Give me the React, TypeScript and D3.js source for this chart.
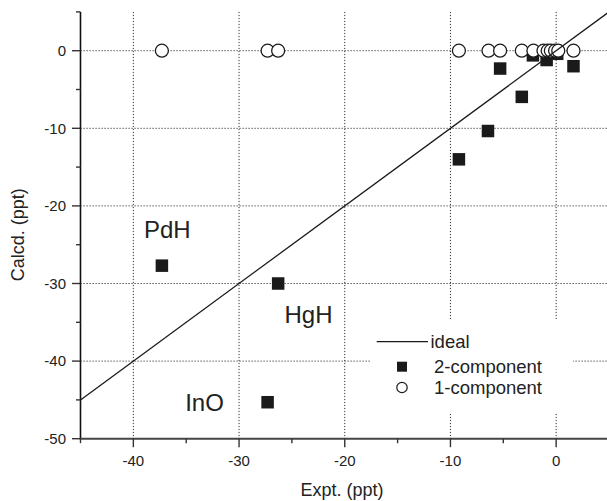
import React from "react";
import * as d3 from "d3";

// Data
const oneComponentX = [-37.3, -27.3, -26.3, -9.2, -6.4, -5.3, -3.25, -2.15, -1.2, -0.8, -0.5, -0.1, 0.2, 1.64];
const oneComponentY = [0, 0, 0, 0, 0, 0, 0, 0, 0, 0, 0, 0, 0, 0];

const twoComponentX = [-37.3, -27.3, -26.3, -9.2, -6.45, -5.3, -3.25, -2.2, -0.9, 0.1, 1.64];
const twoComponentY = [-27.7, -45.3, -30.0, -14.0, -10.35, -2.3, -5.95, -0.6, -1.2, -0.4, -2.0];

const idealX = [-45, 5];

const xMajorTicks = [-40, -30, -20, -10, 0];
const xMinorTicks = [-45, -35, -25, -15, -5, 5];
const yMajorTicks = [0, -10, -20, -30, -40, -50];
const yMinorTicks = [5, -5, -15, -25, -35, -45];

const annotationText = ["PdH", "HgH", "InO"];
const annotationX = [-39.0, -25.7, -35.1];
const annotationY = [-24.1, -35.05, -46.4];

const legendLabels = ["ideal", "2-component", "1-component"];

const FONT = "'Liberation Sans', Arial, Helvetica, sans-serif";
const TEXT = "#222";

export default function App() {
  const W = 607;
  const H = 501;
  const x = d3.scaleLinear().domain([-45, 5]).range([80.5, 80.5 + 50 * 10.57]);
  const y = d3.scaleLinear().domain([-50, 5]).range([438.7, 438.7 - 55 * 7.76]);
  const x0 = x(-45);
  const xEnd = W;
  const yTop = y(5);
  const yBot = y(-50);

  const line = d3
    .line<number>()
    .x((d) => x(d))
    .y((d) => y(d));

  const sq = 12.5;
  const r = 6.5;

  // legend box
  const lg = { x: 370, y: 319, w: 203, h: 93 };

  return (
    <svg
      width={W}
      height={H}
      style={{ position: "absolute", left: 0, top: 0, background: "#fff" }}
      fontFamily={FONT}
    >
      <rect x={0} y={0} width={W} height={H} fill="#fff" />
      {/* grid */}
      <g stroke="#333" strokeWidth={1} strokeDasharray="1.2,1.8">
        {xMajorTicks.map((t) => (
          <line key={"gx" + t} x1={x(t)} x2={x(t)} y1={yTop} y2={yBot} />
        ))}
        {yMajorTicks
          .filter((t) => t !== -50)
          .map((t) => (
            <line key={"gy" + t} x1={x0} x2={xEnd} y1={y(t)} y2={y(t)} />
          ))}
      </g>

      {/* 2-component squares */}
      <g fill="#1a1a1a">
        {twoComponentX.map((v, i) => (
          <rect
            key={"s" + i}
            x={x(v) - sq / 2}
            y={y(twoComponentY[i]) - sq / 2}
            width={sq}
            height={sq}
          />
        ))}
      </g>

      {/* 1-component circles */}
      <g fill="#fff" stroke="#1a1a1a" strokeWidth={1.3}>
        {oneComponentX.map((v, i) => (
          <circle key={"c" + i} cx={x(v)} cy={y(oneComponentY[i])} r={r} />
        ))}
      </g>

      {/* ideal line */}
      <path d={line(idealX) || ""} fill="none" stroke="#1a1a1a" strokeWidth={1.3} />

      {/* axes */}
      <line x1={x0} x2={x0} y1={yTop} y2={yBot} stroke="#111" strokeWidth={1.6} />
      <line x1={x0 - 0.8} x2={xEnd} y1={yBot} y2={yBot} stroke="#444" strokeWidth={2} />
      <g stroke="#333" strokeWidth={1.4}>
        {xMajorTicks.map((t) => (
          <line key={"xt" + t} x1={x(t)} x2={x(t)} y1={yBot} y2={yBot + 8.5} />
        ))}
        {xMinorTicks.map((t) => (
          <line key={"xm" + t} x1={x(t)} x2={x(t)} y1={yBot} y2={yBot + 4.5} />
        ))}
        {yMajorTicks.map((t) => (
          <line key={"yt" + t} x1={x0 - 8.5} x2={x0} y1={y(t)} y2={y(t)} />
        ))}
        {yMinorTicks.map((t) => (
          <line key={"ym" + t} x1={x0 - 4.5} x2={x0} y1={y(t)} y2={y(t)} />
        ))}
      </g>
      <g fill={TEXT} fontSize={15}>
        {xMajorTicks.map((t) => (
          <text key={"xl" + t} x={x(t)} y={466} textAnchor="middle">
            {t}
          </text>
        ))}
        {yMajorTicks.map((t) => (
          <text key={"yl" + t} x={66} y={y(t) + 5.2} textAnchor="end">
            {t}
          </text>
        ))}
      </g>

      {/* axis titles */}
      <text x={342} y={496} textAnchor="middle" fontSize={18} fill={TEXT}>
        Expt. (ppt)
      </text>
      <text
        transform={`translate(24,${234.7}) rotate(-90)`}
        textAnchor="middle"
        fontSize={18}
        fill={TEXT}
      >
        Calcd. (ppt)
      </text>

      {/* annotations */}
      <g fontSize={24} fill={TEXT}>
        {annotationText.map((t, i) => (
          <text key={t} x={x(annotationX[i])} y={y(annotationY[i])}>
            {t}
          </text>
        ))}
      </g>

      {/* legend */}
      <rect x={lg.x} y={lg.y} width={lg.w} height={lg.h} fill="#fff" />
      <line x1={376.7} x2={428} y1={341.7} y2={341.7} stroke="#1a1a1a" strokeWidth={1.3} />
      <rect x={402 - 5} y={366.7 - 5} width={10} height={10} fill="#1a1a1a" />
      <circle cx={402} cy={387.5} r={5.2} fill="#fff" stroke="#1a1a1a" strokeWidth={1.2} />
      <g fontSize={18.5} fill={TEXT}>
        <text x={430.5} y={347.5}>{legendLabels[0]}</text>
        <text x={434} y={373}>{legendLabels[1]}</text>
        <text x={434} y={393.5}>{legendLabels[2]}</text>
      </g>
    </svg>
  );
}
